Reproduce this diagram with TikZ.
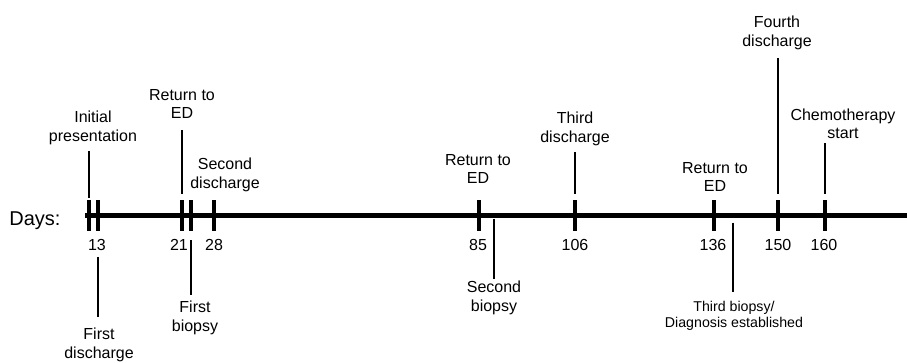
\documentclass[tikz,border=0pt]{standalone}
\usepackage{fontspec}
\setmainfont{Liberation Sans}
\begin{document}
\begin{tikzpicture}[x=1pt, y=-1pt,
                    font=\fontsize{16}{18.5}\selectfont,
                    tickbar/.style={fill=black, inner sep=0pt, minimum width=4.5pt, minimum height=31pt},
                    event/.style={align=center, inner sep=0pt},
                    day/.style={inner sep=0pt},
                    lead/.style={line width=1.1pt, shorten <=6pt, shorten >=6pt}]
  \useasboundingbox (0,0) rectangle (907,362);

  % the time axis
  \node[font=\fontsize{20}{24}\selectfont, inner sep=0pt] (days) at (35,221) {Days:};
  \coordinate (axstart) at (85,215.5);
  \coordinate (axend) at (907,215.5);
  \draw[line width=5pt] (axstart) -- (axend);

  % ticks on the axis
  \node[tickbar] (tini)  at (89,215.5) {};
  \node[tickbar] (tdis1) at (98,215.5) {};
  \node[tickbar] (tred1) at (182,215.5) {};
  \node[tickbar] (tbio1) at (191,215.5) {};
  \node[tickbar] (tdis2) at (214,215.5) {};
  \node[tickbar] (tred2) at (479,215.5) {};
  \node[tickbar] (tdis3) at (575,215.5) {};
  \node[tickbar] (tred3) at (714,215.5) {};
  \node[tickbar] (tdis4) at (778,215.5) {};
  \node[tickbar] (tchemo) at (825,215.5) {};
  \coordinate (tbio2) at (494,215.5);
  \coordinate (tbio3) at (733,215.5);

  % day numbers
  \node[day] (n13)  at (97,245)  {13};
  \node[day] (n21)  at (179,245) {21};
  \node[day] (n28)  at (214,245) {28};
  \node[day] (n85)  at (478,245) {85};
  \node[day] (n106) at (575,245) {106};
  \node[day] (n136) at (713,245) {136};
  \node[day] (n150) at (778,245) {150};
  \node[day] (n160) at (824,245) {160};

  % events above the axis
  \node[event] (ini)   at (93,128)  {Initial\\presentation};
  \node[event] (red1)  at (182,104) {Return to\\ED};
  \node[event] (dis2)  at (225,175) {Second\\discharge};
  \node[event] (red2)  at (478,169) {Return to\\ED};
  \node[event] (dis3)  at (575,129) {Third\\discharge};
  \node[event] (red3)  at (715,177) {Return to\\ED};
  \node[event] (dis4)  at (777,33)  {Fourth\\discharge};
  \node[event] (chemo) at (843,124) {Chemotherapy\\start};

  % events below the axis
  \node[event] (dis1) at (99,345)  {First\\discharge};
  \node[event] (bio1) at (195,318) {First\\biopsy};
  \node[event] (bio2) at (494,298) {Second\\biopsy};
  \node[event, font=\fontsize{14.2}{16}\selectfont] (bio3) at (734,316) {Third biopsy/\\Diagnosis established};

  % leader lines
  \draw[lead, shorten >=2pt] (ini.south -| tini) -- (tini.north);
  \draw[lead, shorten <=11pt] (red1.south -| tred1) -- (tred1.north);
  \draw[lead] (dis3.south -| tdis3) -- (tdis3.north);
  \draw[lead, shorten <=8pt] (dis4.south -| tdis4) -- (tdis4.north);
  \draw[lead, shorten <=4pt] (chemo.south -| tchemo) -- (tchemo.north);
  \draw[lead, shorten >=11pt] (n13.south -| tdis1) -- (dis1.north -| tdis1);
  \draw[lead, shorten <=9pt] (tbio1.south) -- (bio1.north -| tbio1);
  \draw[lead, shorten <=3pt, shorten >=2pt] (tbio2) -- (bio2.north -| tbio2);
  \draw[lead, shorten <=7pt, shorten >=9pt] (tbio3) -- (bio3.north -| tbio3);
\end{tikzpicture}
\end{document}
